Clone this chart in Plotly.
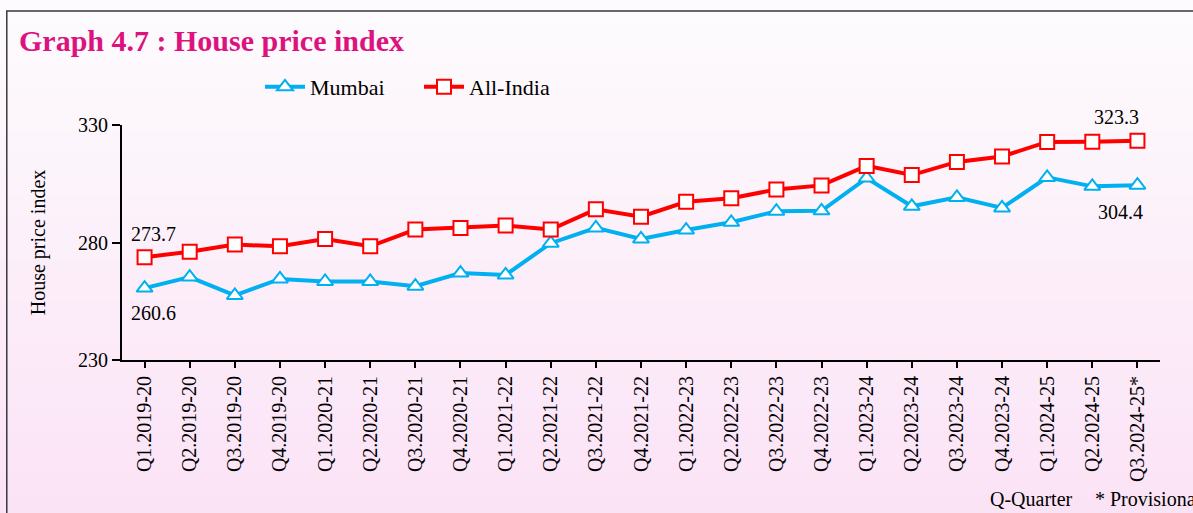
import plotly.graph_objects as go

quarters = ["Q1.2019-20", "Q2.2019-20", "Q3.2019-20", "Q4.2019-20",
            "Q1.2020-21", "Q2.2020-21", "Q3.2020-21", "Q4.2020-21",
            "Q1.2021-22", "Q2.2021-22", "Q3.2021-22", "Q4.2021-22",
            "Q1.2022-23", "Q2.2022-23", "Q3.2022-23", "Q4.2022-23",
            "Q1.2023-24", "Q2.2023-24", "Q3.2023-24", "Q4.2023-24",
            "Q1.2024-25", "Q2.2024-25", "Q3.2024-25*"]

mumbai = [260.6, 265.3, 257.5, 264.5, 263.4, 263.4, 261.4, 267.0,
          266.2, 279.7, 286.2, 281.5, 285.3, 288.6, 293.3, 293.5,
          307.4, 295.4, 299.2, 294.7, 307.7, 303.9, 304.4]

all_india = [273.7, 276.1, 279.1, 278.4, 281.5, 278.4, 285.5, 286.2,
             287.2, 285.5, 294.1, 291.0, 297.3, 298.8, 302.6, 304.3,
             312.6, 308.7, 314.3, 316.6, 322.8, 322.9, 323.3]

y_ticks = [230, 280, 330]

SERIF = "Liberation Serif, Times New Roman, serif"

fig = go.Figure()
fig.add_trace(go.Scatter(
    x=quarters, y=mumbai, name="Mumbai", mode="lines+markers",
    line=dict(color="#00b0f0", width=4),
    marker=dict(symbol="triangle-up", size=14, color="white",
                line=dict(color="#00b0f0", width=2)),
))
fig.add_trace(go.Scatter(
    x=quarters, y=all_india, name="All-India", mode="lines+markers",
    line=dict(color="#ff0000", width=4),
    marker=dict(symbol="square", size=14, color="white",
                line=dict(color="#ff0000", width=2)),
))

# gradient-like background bands
shapes = []
n = 24
top = (253, 251, 253)
bot = (251, 227, 246)
y_top, y_bot = 1.52, -0.66
for i in range(n):
    t = i / (n - 1)
    c = tuple(round(top[k] + (bot[k] - top[k]) * t) for k in range(3))
    y1 = y_top - (y_top - y_bot) * i / n
    y0 = y_top - (y_top - y_bot) * (i + 1) / n
    shapes.append(dict(type="rect", xref="paper", yref="paper",
                       x0=-0.2, x1=1.2, y0=y0 - 0.002, y1=y1,
                       fillcolor="rgb(%d,%d,%d)" % c, line=dict(width=0),
                       layer="below"))
# outer frame
shapes.append(dict(type="rect", xref="paper", yref="paper",
                   x0=-0.111, x1=1.2, y0=-0.8, y1=1.485,
                   line=dict(color="#3a3a3a", width=1.5),
                   fillcolor="rgba(0,0,0,0)", layer="above"))

annotations = [
    dict(x=quarters[0], y=all_india[0], text="273.7", showarrow=False,
         xshift=9, yshift=23, font=dict(size=20, family=SERIF, color="black")),
    dict(x=quarters[0], y=mumbai[0], text="260.6", showarrow=False,
         xshift=9, yshift=-25, font=dict(size=20, family=SERIF, color="black")),
    dict(x=quarters[-1], y=all_india[-1], text="323.3", showarrow=False,
         xshift=-21, yshift=24, font=dict(size=20, family=SERIF, color="black")),
    dict(x=quarters[-1], y=mumbai[-1], text="304.4", showarrow=False,
         xshift=-17, yshift=-27, font=dict(size=20, family=SERIF, color="black")),
    dict(xref="paper", yref="paper", x=(988 - 122) / 1038, y=(360 - 499) / 235,
         xanchor="left", yanchor="middle", text="Q-Quarter", showarrow=False,
         font=dict(size=20, family=SERIF, color="black")),
    dict(xref="paper", yref="paper", x=(1093 - 122) / 1038, y=(360 - 499) / 235,
         xanchor="left", yanchor="middle", text="* Provisional", showarrow=False,
         font=dict(size=20, family=SERIF, color="black")),
]

fig.update_layout(
    width=1193, height=513,
    margin=dict(l=122, r=33, t=125, b=153),
    paper_bgcolor="rgb(253,251,253)",
    plot_bgcolor="rgba(0,0,0,0)",
    font=dict(family=SERIF, size=20, color="black"),
    title=dict(text="<b>Graph 4.7 : House price index</b>",
               x=19 / 1193, xref="container", xanchor="left",
               y=1 - 40 / 513, yref="container", yanchor="middle",
               font=dict(family=SERIF, size=30, color="#dc137f")),
    legend=dict(orientation="h", x=(260 - 122) / 1038, xanchor="left",
                y=(360 - 87) / 235, yanchor="middle",
                font=dict(family=SERIF, size=22, color="black"),
                bgcolor="rgba(0,0,0,0)", itemwidth=40,
                entrywidth=104, entrywidthmode="pixels"),
    showlegend=True,
    shapes=shapes,
    annotations=annotations,
    xaxis=dict(type="category", categoryorder="array", categoryarray=quarters,
               range=[-0.5, 22.5], tickangle=-90, showline=True,
               linecolor="black", linewidth=2, ticks="outside", ticklen=6,
               tickwidth=1.5, tickcolor="black", showgrid=False,
               zeroline=False, automargin=False,
               tickfont=dict(family=SERIF, size=20)),
    yaxis=dict(range=[230, 330], tickvals=y_ticks, showline=True,
               linecolor="black", linewidth=2, ticks="outside", ticklen=8,
               tickwidth=1.5, tickcolor="black", showgrid=False,
               zeroline=False, automargin=False,
               tickfont=dict(family=SERIF, size=20),
               title=dict(text="House price index", standoff=27,
                          font=dict(family=SERIF, size=20))),
)

fig.write_html("out.html", config={"displayModeBar": False},
               post_script="document.body.style.margin='0';"
                           "document.body.style.overflow='hidden';")
